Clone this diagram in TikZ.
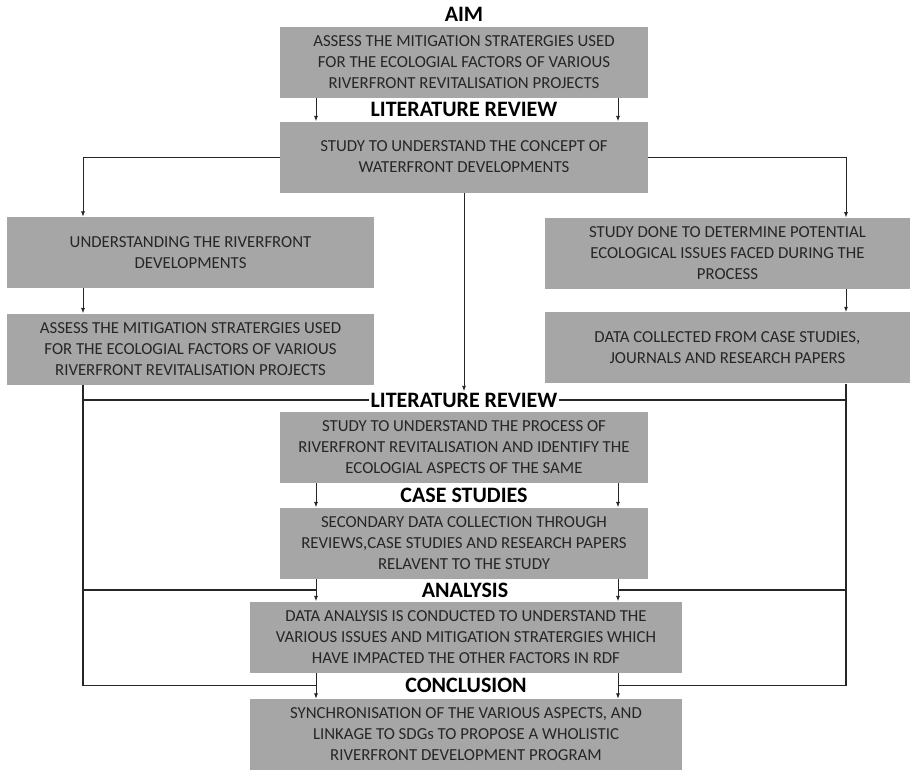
\documentclass[tikz,border=0pt]{standalone}
\usepackage{fontspec}
\setmainfont{Carlito}
\usetikzlibrary{arrows.meta,positioning,calc}
\definecolor{boxgray}{RGB}{166,166,166}
\definecolor{inkgray}{RGB}{38,38,38}

\begin{document}
\begin{tikzpicture}[
  x=1pt, y=1pt,
  box/.style={fill=boxgray, text=inkgray, align=center, minimum width=276pt, minimum height=53.25pt, inner sep=2pt, font=\fontsize{12.6}{15.75}\selectfont},
  ttl/.style={font=\fontsize{16.5}{18}\selectfont\bfseries, inner sep=1pt},
  flow/.style={-{Latex[length=4pt,width=3pt]}, line width=0.7pt, draw=black!85},
  link/.style={line width=1pt, draw=black!85}
]
\useasboundingbox (0,0) rectangle (683.25,-576.75);
\coordinate (lx) at (62.25,0);
\coordinate (rx) at (634.5,0);
\coordinate (cl) at (237,0);
\coordinate (cr) at (463.5,0);

% ---- Aim ----
\node[ttl] (tAim) at (348,-10.5) {AIM};
\node[box] (aim) at (348,-46.9) {ASSESS THE MITIGATION STRATERGIES USED\\FOR THE ECOLOGIAL FACTORS OF VARIOUS\\RIVERFRONT REVITALISATION PROJECTS};
\node[box, below=17.25pt of aim] (lit) {STUDY TO UNDERSTAND THE CONCEPT OF\\WATERFRONT DEVELOPMENTS};
\node[ttl] (tLit) at ($(aim.south)!.5!(lit.north)$) {LITERATURE REVIEW};

% ---- Side branches ----
\node[box, minimum width=275pt] (und) at (142.9,-189.4) {UNDERSTANDING THE RIVERFRONT\\DEVELOPMENTS};
\node[box, minimum width=275pt, below=18.75pt of und] (asm) {ASSESS THE MITIGATION STRATERGIES USED\\FOR THE ECOLOGIAL FACTORS OF VARIOUS\\RIVERFRONT REVITALISATION PROJECTS};
\node[box, minimum width=274pt] (iss) at (545.6,-190) {STUDY DONE TO DETERMINE POTENTIAL\\ECOLOGICAL ISSUES FACED DURING THE\\PROCESS};
\node[box, minimum width=274pt, below=17.25pt of iss] (dat) {DATA COLLECTED FROM CASE STUDIES,\\JOURNALS AND RESEARCH PAPERS};

% ---- Review and case studies ----
\node[ttl] (tRev) at (348,-300) {LITERATURE REVIEW};
\node[box] (pro) at (348,-335.6) {STUDY TO UNDERSTAND THE PROCESS OF\\RIVERFRONT REVITALISATION AND IDENTIFY THE\\ECOLOGIAL ASPECTS OF THE SAME};
\node[box, below=18pt of pro] (sec) {SECONDARY DATA COLLECTION THROUGH\\REVIEWS,CASE STUDIES AND RESEARCH PAPERS\\RELAVENT TO THE STUDY};
\node[ttl] (tCase) at ($(pro.south)!.5!(sec.north)$) {CASE STUDIES};

% ---- Analysis and conclusion ----
\node[box, minimum width=324pt] (ana) at (349.5,-477.75) {DATA ANALYSIS IS CONDUCTED TO UNDERSTAND THE\\VARIOUS ISSUES AND MITIGATION STRATERGIES WHICH\\HAVE IMPACTED THE OTHER FACTORS IN RDF};
\node[box, minimum width=324pt, below=19.5pt of ana] (syn) {SYNCHRONISATION OF THE VARIOUS ASPECTS, AND\\LINKAGE TO SDGs TO PROPOSE A WHOLISTIC\\RIVERFRONT DEVELOPMENT PROGRAM};
\node[ttl] (tAna) at ($(sec.south)!.5!(ana.north)$) {ANALYSIS};
\node[ttl] (tCon) at ($(ana.south)!.5!(syn.north)$) {CONCLUSION};

% edges
\draw[flow] (aim.south -| cl) -- (lit.north -| cl);
\draw[flow] (aim.south -| cr) -- (lit.north -| cr);
\draw[flow] (lit.west) -| (und.north -| lx);
\draw[flow] (lit.east) -| (iss.north -| rx);
\draw[flow] (lit.south) -- (tRev.north);
\draw[flow] (und.south -| lx) -- (asm.north -| lx);
\draw[flow] (iss.south -| rx) -- (dat.north -| rx);
\draw[link] (asm.south -| lx) |- (tCon -| cl);
\draw[link] (dat.south -| rx) |- (tCon -| cr);
\draw[link] (tRev.west) -- (tRev.west -| lx);
\draw[link] (tRev.east) -- (tRev.east -| rx);
\draw[link] (tAna -| lx) -- (tAna -| cl);
\draw[link] (tAna -| rx) -- (tAna -| cr);
\draw[flow] (pro.south -| cl) -- (sec.north -| cl);
\draw[flow] (pro.south -| cr) -- (sec.north -| cr);
\draw[flow] (sec.south -| cl) -- (ana.north -| cl);
\draw[flow] (sec.south -| cr) -- (ana.north -| cr);
\draw[flow] (ana.south -| cl) -- (syn.north -| cl);
\draw[flow] (ana.south -| cr) -- (syn.north -| cr);
\end{tikzpicture}
\end{document}
